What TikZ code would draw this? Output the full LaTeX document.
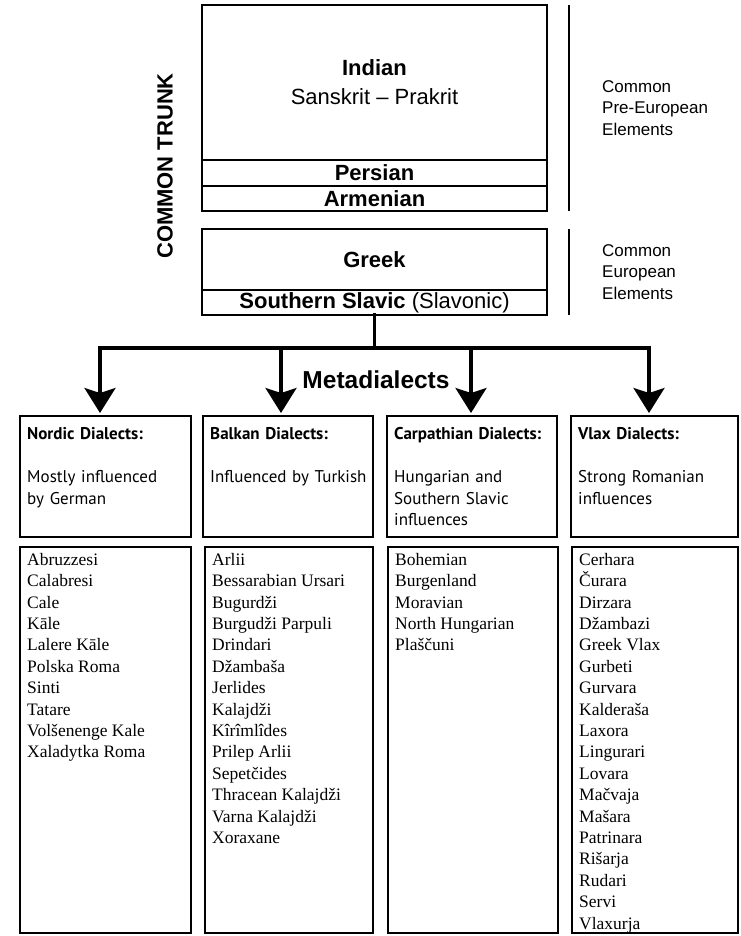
\documentclass[tikz,border=0pt]{standalone}
\usepackage{fontspec}
\setmainfont{Liberation Serif}
\newfontfamily\helvfont{Liberation Sans}
\newfontfamily\myriadfont{PT Sans}
\usetikzlibrary{positioning,arrows.meta}

\begin{document}
\begin{tikzpicture}[
    x=1pt, y=-1pt,
    % Style for the stacked boxes of the common trunk
    trunk/.style={draw, line width=1.3pt, minimum width=345pt, inner sep=0pt, outer sep=0pt,
        font=\helvfont\fontsize{22}{29}\selectfont, align=center},
    % Style for the notes on the right
    side note/.style={anchor=west, align=left, inner sep=0pt,
        font=\helvfont\fontsize{17}{21.5}\selectfont},
    % Style for the metadialect boxes
    dialect/.style={draw, line width=2.4pt, minimum height=121pt, anchor=north west,
        inner sep=0pt, outer sep=0pt},
    dialect text/.style={anchor=north west, align=left, text width=160pt,
        inner xsep=7pt, inner ysep=11.5pt, font=\myriadfont\fontsize{17}{21.5}\selectfont},
    % Style for the lists of dialects
    list box/.style={draw, line width=1.2pt, minimum height=386pt, anchor=north west,
        inner sep=0pt, outer sep=0pt},
    list text/.style={anchor=north west, align=left, inner xsep=7pt, inner ysep=6pt,
        font=\fontsize{17.5}{21.4}\selectfont},
    % Style for the thick branching lines
    branch/.style={line width=3.6pt, line cap=rect},
    branch arrow/.style={branch, shorten >=3pt, -{Stealth[length=25pt, width=31pt, inset=5pt]}}
]
    \useasboundingbox (0,0) rectangle (740,936);

    % --- 1. Common trunk ---
    \node[trunk, minimum height=155pt] (indian) at (374.5,82.5)
        {\textbf{Indian}\\Sanskrit \textendash{} Prakrit};
    \node[trunk, minimum height=26pt, below=0pt of indian] (persian) {\textbf{Persian}};
    \node[trunk, minimum height=25pt, below=0pt of persian] (armenian) {\textbf{Armenian}};
    \draw[line width=2.3pt] (indian.north west) rectangle (armenian.south east);

    \node[trunk, minimum height=61pt] (greek) at (374.5,259.5) {\textbf{Greek}};
    \node[trunk, minimum height=25pt, below=0pt of greek] (slavic)
        {\textbf{Southern Slavic} (Slavonic)};
    \draw[line width=2.3pt] (greek.north west) rectangle (slavic.south east);

    \node[rotate=90, font=\helvfont\bfseries\fontsize{22}{26}\selectfont] (trunk label)
        at (165,166) {COMMON TRUNK};

    % --- 2. Notes on the right ---
    \draw[line width=2.5pt] ([xshift=22pt]indian.north east) -- ([xshift=22pt]armenian.south east);
    \draw[line width=2.5pt] ([xshift=22pt]greek.north east) -- ([xshift=22pt]slavic.south east);

    \node[side note] (pre european) at (602,108) {Common\\Pre-European\\Elements};
    \node[side note] (european) at (602,272) {Common\\European\\Elements};

    % --- 3. Metadialect boxes ---
    \node[dialect, minimum width=171pt] (nordic) at (20,416) {};
    \node[dialect, minimum width=170pt] (balkan) at (203,416) {};
    \node[dialect, minimum width=170pt] (carpathian) at (387,416) {};
    \node[dialect, minimum width=167pt] (vlax) at (571,416) {};

    \node[dialect text] (nordic title) at (nordic.north west)
        {\textbf{Nordic Dialects:}\\[21.5pt]Mostly influenced\\by German};
    \node[dialect text] (balkan title) at (balkan.north west)
        {\textbf{Balkan Dialects:}\\[21.5pt]Influenced by Turkish};
    \node[dialect text] (carpathian title) at (carpathian.north west)
        {\textbf{Carpathian Dialects:}\\[21.5pt]Hungarian and\\Southern Slavic\\influences};
    \node[dialect text] (vlax title) at (vlax.north west)
        {\textbf{Vlax Dialects:}\\[21.5pt]Strong Romanian\\influences};

    % --- 4. Branching arrows ---
    \coordinate (bar west) at (100,348);
    \coordinate (bar balkan) at (281,348);
    \coordinate (bar carpathian) at (471,348);
    \coordinate (bar east) at (649,348);

    \draw[branch] (slavic.south) -- (slavic.south |- bar west);
    \draw[branch] (bar west) -- (bar east);
    \draw[branch arrow] (bar west) -- (bar west |- nordic.north);
    \draw[branch arrow] (bar balkan) -- (bar balkan |- balkan.north);
    \draw[branch arrow] (bar carpathian) -- (bar carpathian |- carpathian.north);
    \draw[branch arrow] (bar east) -- (bar east |- vlax.north);

    \node[font=\helvfont\bfseries\fontsize{24.5}{28}\selectfont] (metadialects)
        at (376,380) {Metadialects};

    % --- 5. Lists of dialects ---
    \node[list box, minimum width=171pt] (nordic list) at (20,547) {};
    \node[list box, minimum width=168pt] (balkan list) at (205,547) {};
    \node[list box, minimum width=170pt] (carpathian list) at (388,547) {};
    \node[list box, minimum width=166pt] (vlax list) at (572,547) {};

    \node[list text] (nordic names) at (nordic list.north west)
        {Abruzzesi\\Calabresi\\Cale\\Kāle\\Lalere Kāle\\Polska Roma\\Sinti\\Tatare\\
         Volšenenge Kale\\Xaladytka Roma};
    \node[list text] (balkan names) at (balkan list.north west)
        {Arlii\\Bessarabian Ursari\\Bugurdži\\Burgudži Parpuli\\Drindari\\Džambaša\\
         Jerlides\\Kalajdži\\Kîrîmlîdes\\Prilep Arlii\\Sepetčides\\Thracean Kalajdži\\
         Varna Kalajdži\\Xoraxane};
    \node[list text] (carpathian names) at (carpathian list.north west)
        {Bohemian\\Burgenland\\Moravian\\North Hungarian\\Plaščuni};
    \node[list text] (vlax names) at (vlax list.north west)
        {Cerhara\\Čurara\\Dirzara\\Džambazi\\Greek Vlax\\Gurbeti\\Gurvara\\Kalderaša\\
         Laxora\\Lingurari\\Lovara\\Mačvaja\\Mašara\\Patrinara\\Rišarja\\Rudari\\
         Servi\\Vlaxurja};

\end{tikzpicture}
\end{document}
